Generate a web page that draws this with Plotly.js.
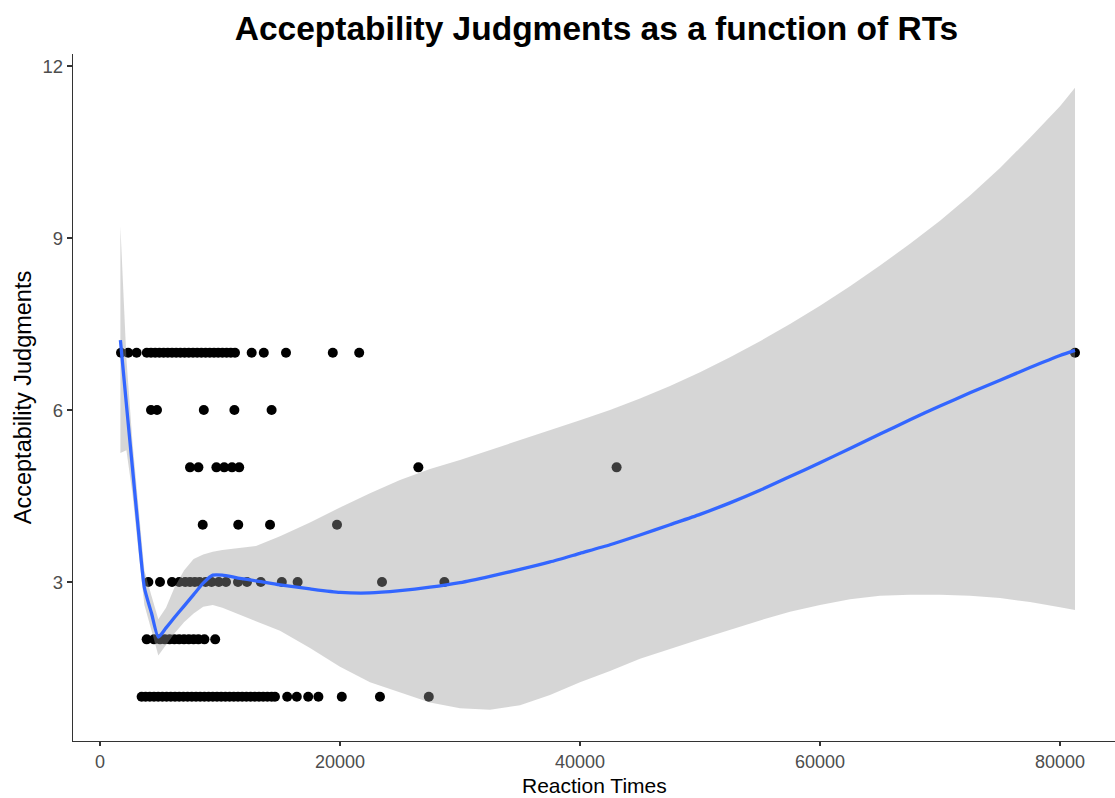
<!DOCTYPE html>
<html>
<head>
<meta charset="utf-8">
<script src="https://cdn.plot.ly/plotly-3.0.1.min.js"></script>
<style>
html, body { margin: 0; padding: 0; background: #fff; }
#chart { width: 1115px; height: 798px; }
</style>
</head>
<body>
<div id="chart"></div>
<script>
// Observed points: reaction time (x) and judgment (y), grouped by judgment level
const rt7 = [1750, 2350, 3050, 3900, 4250, 4600, 4950, 5300, 5650, 6000, 6350, 6700, 7050, 7400, 7750, 8100, 8450, 8800, 9150, 9500, 9850, 10200, 10550, 10900, 11250, 12640, 13650, 15500, 19400, 21600, 81250];
const rt6 = [4250, 4750, 8650, 11200, 14300];
const rt5 = [7500, 8200, 9700, 10350, 11000, 11600, 26530, 43050];
const rt4 = [8560, 11520, 14170, 19750];
const rt3 = [4030, 5000, 6000, 6600, 7100, 7500, 7900, 8300, 8800, 9300, 9900, 10500, 11500, 12250, 13400, 15150, 16470, 23500, 28700];
const rt2 = [3890, 4500, 5000, 5400, 5800, 6200, 6600, 7000, 7400, 7800, 8200, 8700, 9600];
const rt1 = [3470, 3800, 4150, 4500, 4850, 5200, 5550, 5900, 6250, 6600, 6950, 7300, 7650, 8000, 8350, 8700, 9050, 9400, 9750, 10100, 10450, 10800, 11150, 11500, 11850, 12200, 12550, 12900, 13250, 13600, 13950, 14300, 14580, 15600, 16400, 17350, 18200, 20150, 23330, 27400];

// Smoothed fit and its confidence band
const smoothX = [1700, 2200, 2700, 3200, 3700, 4300, 4860, 5500, 6200, 7000, 7800, 8600, 9400, 10200, 11500, 13000, 15000, 17500, 20000, 22500, 25000, 27500, 30000, 32500, 35000, 37500, 40000, 42500, 45000, 47500, 50000, 52500, 55000, 57500, 60000, 62500, 65000, 67500, 70000, 72500, 75000, 77500, 80000, 81250];
const smoothFit = [7.22, 6.1, 5.0, 3.9, 2.9, 2.45, 2.04, 2.2, 2.38, 2.58, 2.78, 2.98, 3.12, 3.12, 3.07, 3.02, 2.95, 2.88, 2.82, 2.81, 2.85, 2.91, 2.99, 3.1, 3.22, 3.35, 3.5, 3.65, 3.82, 4.0, 4.18, 4.38, 4.6, 4.84, 5.08, 5.33, 5.58, 5.83, 6.07, 6.3, 6.52, 6.74, 6.95, 7.04];
const bandUpper = [9.2, 6.9, 5.45, 4.25, 3.2, 2.75, 2.35, 2.55, 2.9, 3.2, 3.4, 3.48, 3.53, 3.56, 3.59, 3.63, 3.8, 4.04, 4.3, 4.55, 4.78, 4.97, 5.13, 5.3, 5.47, 5.64, 5.82, 6.0, 6.2, 6.42, 6.66, 6.92, 7.2, 7.5, 7.82, 8.16, 8.52, 8.9, 9.3, 9.74, 10.22, 10.75, 11.3, 11.62];
const bandLower = [5.25, 5.3, 4.55, 3.55, 2.6, 2.15, 1.72, 1.9, 2.1, 2.3, 2.45, 2.57, 2.6, 2.55, 2.45, 2.32, 2.15, 1.85, 1.52, 1.25, 1.08, 0.9, 0.8, 0.77, 0.85, 1.03, 1.25, 1.45, 1.66, 1.83, 2.0, 2.17, 2.33, 2.48, 2.6, 2.7, 2.76, 2.78, 2.78, 2.76, 2.72, 2.65, 2.56, 2.51];

const xTicks = [0, 20000, 40000, 60000, 80000];
const yTicks = [3, 6, 9, 12];

const groups = [[rt7, 7], [rt6, 6], [rt5, 5], [rt4, 4], [rt3, 3], [rt2, 2], [rt1, 1]];
const px = [], py = [];
groups.forEach(([xs, level]) => xs.forEach(v => { px.push(v); py.push(level); }));

const traces = [
  {
    type: 'scatter', mode: 'markers', x: px, y: py,
    marker: { color: '#000000', size: 10 },
    hoverinfo: 'skip', showlegend: false
  },
  {
    type: 'scatter', mode: 'lines',
    x: smoothX.concat(smoothX.slice().reverse()),
    y: bandUpper.concat(bandLower.slice().reverse()),
    fill: 'toself', fillcolor: 'rgba(153,153,153,0.4)',
    line: { width: 0, color: 'rgba(0,0,0,0)' },
    hoverinfo: 'skip', showlegend: false
  },
  {
    type: 'scatter', mode: 'lines', x: smoothX, y: smoothFit,
    line: { color: '#3366FF', width: 3.3, shape: 'spline', smoothing: 0.6 },
    hoverinfo: 'skip', showlegend: false
  }
];

const layout = {
  width: 1115, height: 798,
  margin: { l: 73, r: 0, t: 54, b: 57 },
  paper_bgcolor: '#ffffff', plot_bgcolor: '#ffffff',
  font: { family: 'Liberation Sans, Arial, sans-serif' },
  title: {
    text: '<b>Acceptability Judgments as a function of RTs</b>',
    font: { size: 33.5, color: '#000000', family: 'Liberation Sans, Arial, sans-serif' },
    x: 0.535, xanchor: 'center', y: 0.965, yanchor: 'middle'
  },
  xaxis: {
    range: [-2250, 84583], tickvals: xTicks, ticktext: xTicks.map(String),
    showgrid: false, zeroline: false, showline: true, linecolor: '#333333', linewidth: 1.2,
    ticks: 'outside', ticklen: 4, tickcolor: '#333333', tickwidth: 1.2,
    tickfont: { size: 18, color: '#4d4d4d' }
  },
  yaxis: {
    range: [0.227, 12.21], tickvals: yTicks, ticktext: yTicks.map(String),
    showgrid: false, zeroline: false, showline: true, linecolor: '#333333', linewidth: 1.2,
    ticks: 'outside', ticklen: 5, tickcolor: '#333333', tickwidth: 1.2,
    tickfont: { size: 18.5, color: '#4d4d4d' },
    title: { text: 'Acceptability Judgments', font: { size: 23.5, color: '#000000' }, standoff: 4 }
  },
  annotations: [{
    text: 'Reaction Times', xref: 'paper', yref: 'paper',
    x: 0.5, y: -0.083, xanchor: 'center', yanchor: 'bottom', showarrow: false,
    borderpad: 0, font: { size: 21, color: '#000000' }
  }],
  showlegend: false
};

Plotly.newPlot('chart', traces, layout, { displayModeBar: false, staticPlot: true });
</script>
</body>
</html>
